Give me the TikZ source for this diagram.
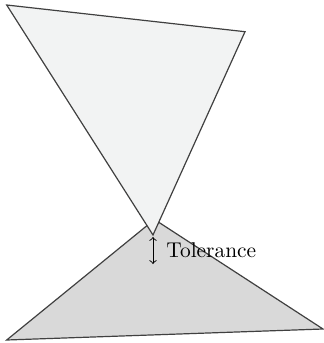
\documentclass[tikz,border=0pt]{standalone}
\usepackage{tikz}
\usetikzlibrary{positioning, arrows}
\usepackage{xcolor}

\definecolor{upperfill}{HTML}{F2F3F3}
\definecolor{lowerfill}{HTML}{D9D9D9}
\definecolor{edgegray}{HTML}{404040}

\tikzset{
  plate/.style={draw=edgegray, line width=0.6pt, line join=miter},
  gap/.style={<->, >=to, line width=0.45pt}
}

\begin{document}
\begin{tikzpicture}[x=0.5pt, y=-0.5pt]
      \useasboundingbox (0,0) rectangle (324,343);

      \coordinate (l0) at (6.7,340);
      \coordinate (l1) at (323,329);
      \coordinate (l2) at (154.5,219.5);
      \coordinate (u0) at (6.7,5);
      \coordinate (u1) at (245,31.7);
      \coordinate (u2) at (153,235);

      \filldraw[plate, fill=lowerfill] (l0) -- (l1) -- (l2) -- cycle;
      \filldraw[plate, fill=upperfill] (u0) -- (u1) -- (u2) -- cycle;

      \coordinate (g0) at (153,237);
      \coordinate (g1) at (153,264);
      \draw[gap] (g0) -- (g1);
      \node[anchor=west, inner sep=0pt, font=\fontsize{10.7}{13}\selectfont] (tol) at (166,250) {Tolerance};
    \end{tikzpicture}
\end{document}
